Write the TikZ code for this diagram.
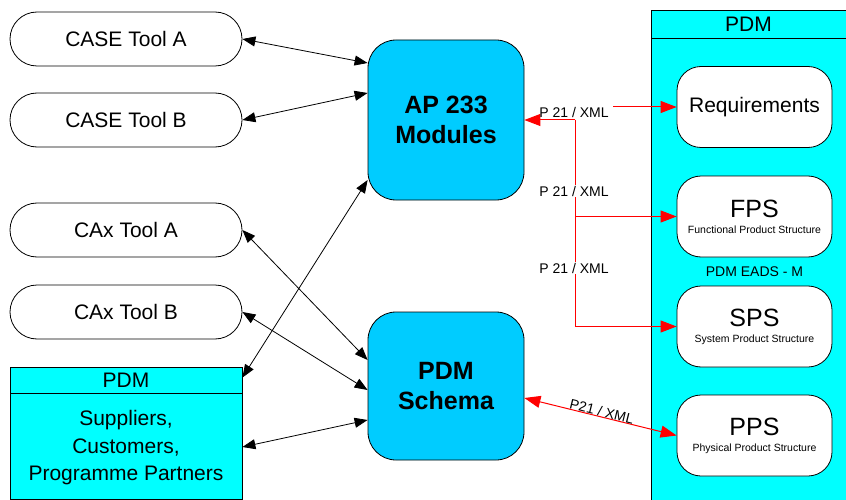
\documentclass[tikz,border=0pt]{standalone}
\usepackage{fontspec}
\setmainfont{Liberation Sans}
\usetikzlibrary{arrows.meta}
\definecolor{pdmcyan}{RGB}{0,255,255}
\definecolor{apblue}{RGB}{0,204,255}
\definecolor{lred}{RGB}{255,0,0}
\tikzset{
  toolbox/.style={draw=black, line width=0.8pt, fill=white, rounded corners=27pt,
    minimum width=232pt, minimum height=54pt, inner sep=0pt,
    font=\fontsize{21}{25}\selectfont},
  hubbox/.style={draw=black, line width=0.8pt, fill=apblue, rounded corners=28pt,
    minimum width=156pt, inner sep=0pt, align=center,
    font=\fontsize{25}{30}\selectfont\bfseries},
  pdmbox/.style={draw=black, line width=0.8pt, fill=pdmcyan, inner sep=0pt},
  innerbox/.style={draw=black, line width=0.8pt, fill=white, rounded corners=24pt,
    minimum width=155pt, minimum height=81pt, inner sep=0pt, align=center},
  bigtxt/.style={font=\fontsize{21}{25}\selectfont},
  blkarrow/.style={line width=0.8pt, black, {Triangle[length=13pt,width=10pt]}-{Triangle[length=13pt,width=10pt]}},
  redline/.style={line width=1pt, lred},
  redtip/.style={line width=1pt, lred, -{Triangle[length=16pt,width=12pt]}},
  lbl/.style={font=\fontsize{14}{16}\selectfont, inner sep=1pt}
}
\newcommand{\subbox}[2]{{\fontsize{25}{28}\selectfont #1}\\[4pt]{\fontsize{10.5}{12}\selectfont #2}}
\begin{document}
\begin{tikzpicture}[x=1pt,y=-1pt]
\useasboundingbox (0,0) rectangle (846,500);
% left tools
\node[toolbox] (casea) at (126,39) {CASE Tool A};
\node[toolbox] (caseb) at (126,120) {CASE Tool B};
\node[toolbox] (caxa) at (126,230) {CAx Tool A};
\node[toolbox] (caxb) at (126,312) {CAx Tool B};
% left PDM
\node[pdmbox, minimum width=232pt, minimum height=132pt] (pdml) at (126,433) {};
\draw[line width=0.8pt] (10,393) -- (242,393);
\node[bigtxt] (pdmlh) at (126,380) {PDM};
\node[bigtxt, align=center, font=\fontsize{21}{27.5}\selectfont] (pdmlb) at (126,448) {Suppliers,\\Customers,\\Programme Partners};
% hubs
\node[hubbox, minimum height=160pt] (ap) at (446,120) {AP 233\\Modules};
\node[hubbox, minimum height=148pt] (schema) at (446,386) {PDM\\Schema};
% right PDM
\node[pdmbox, minimum width=195pt, minimum height=490pt] (pdmr) at (748.5,255) {};
\draw[line width=0.8pt] (651,38) -- (846,38);
\node[bigtxt] (pdmrh) at (748.5,24) {PDM};
\node[innerbox, bigtxt] (req) at (754.5,107) {Requirements};
\node[innerbox] (fps) at (754.5,216.5) {\subbox{FPS}{Functional Product Structure}};
\node[font=\fontsize{14}{16}\selectfont] (eads) at (754.5,272) {PDM EADS - M};
\node[innerbox] (sps) at (754.5,326.5) {\subbox{SPS}{System Product Structure}};
\node[innerbox] (pps) at (754.5,435.5) {\subbox{PPS}{Physical Product Structure}};
% black connectors
\draw[blkarrow] (casea.east) -- ([yshift=57pt]ap.west);
\draw[blkarrow] (caseb.east) -- ([yshift=27pt]ap.west);
\draw[blkarrow] (caxa.east) -- ([yshift=26pt]schema.west);
\draw[blkarrow] (caxb.east) -- ([yshift=-4pt]schema.west);
\draw[blkarrow] ([yshift=-11pt]pdml.north east) -- ([yshift=-60pt]ap.west);
\draw[blkarrow] ([yshift=-14pt]pdml.east) -- ([yshift=-34pt]schema.west);
% red connectors
\coordinate (j1) at (575,120);
\coordinate (rq) at (613,107);
\draw[redtip] (j1) -- (ap.east);
\draw[redline] (j1) -- (j1 |- sps.west);
\draw[redtip] (j1 |- fps.west) -- (fps.west);
\draw[redtip] (j1 |- sps.west) -- (sps.west);
\draw[redtip] (rq) -- (req.west);
\node[lbl] (l1) at (574,112) {P 21 / XML};
\node[lbl, fill=white] (l2) at (574,191) {P 21 / XML};
\node[lbl, fill=white] (l3) at (574,268) {P 21 / XML};
\draw[redline, {Triangle[length=16pt,width=12pt]}-{Triangle[length=16pt,width=12pt]}] ([yshift=-12pt]schema.east) -- node[lbl, sloped, above=-1pt, text=black] (l4) {P21 / XML} (pps.west);
\end{tikzpicture}
\end{document}
